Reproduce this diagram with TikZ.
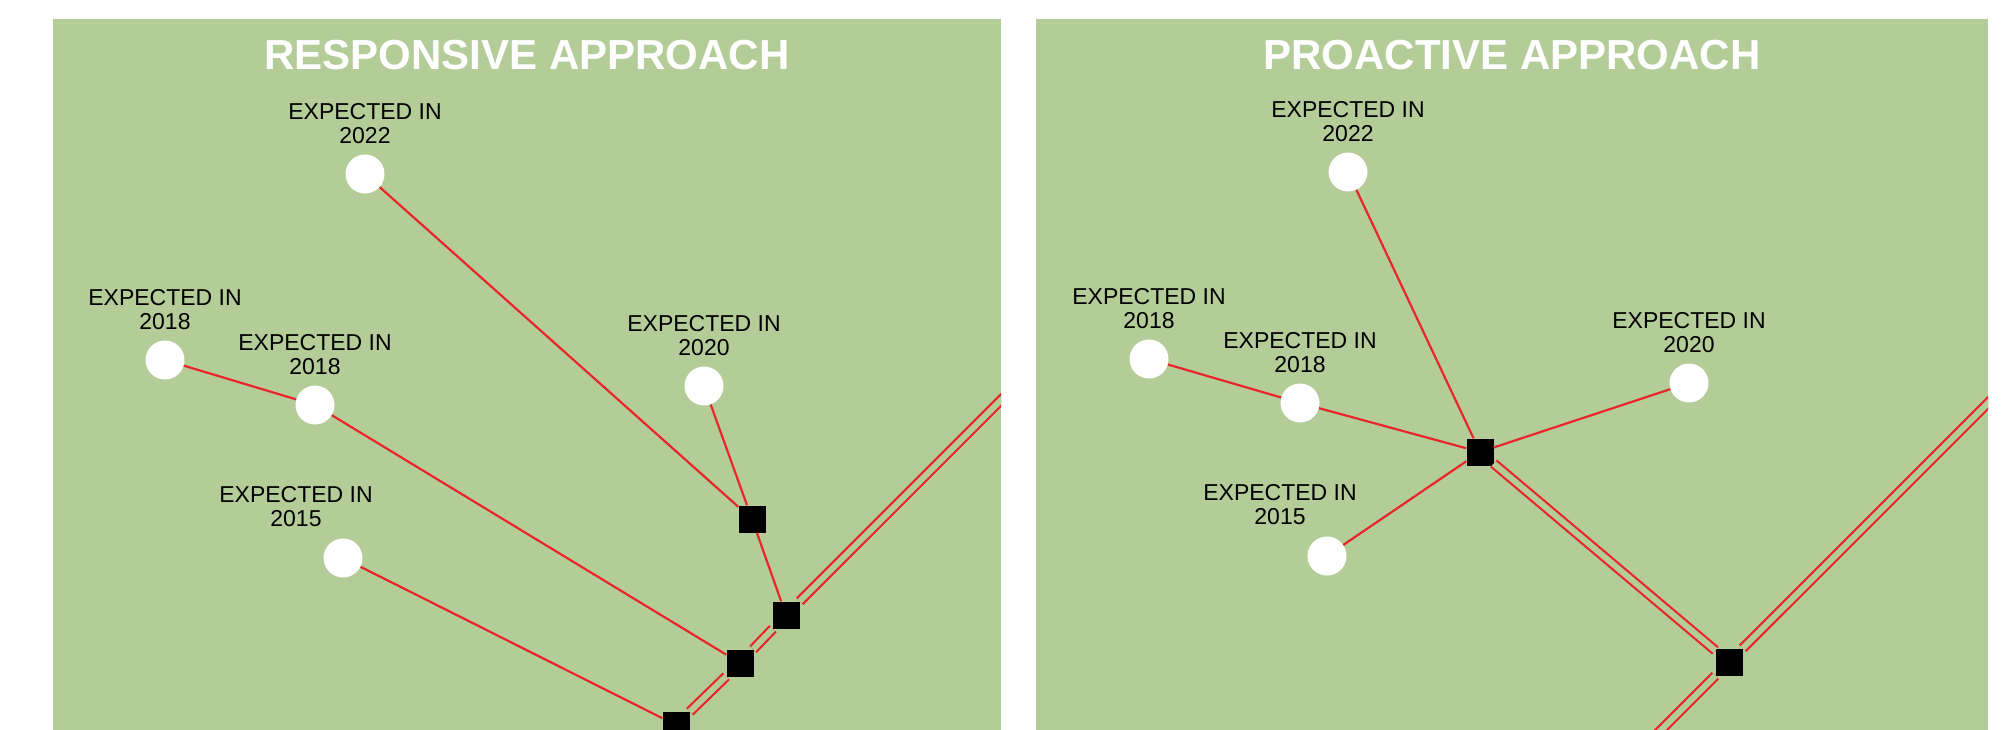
\documentclass[tikz,border=0pt]{standalone}
\usepackage{fontspec}
\setmainfont{Liberation Sans}
\usetikzlibrary{positioning}
\definecolor{panelgreen}{HTML}{B4CC98}
\definecolor{linkred}{HTML}{E8262B}

\begin{document}
\begin{tikzpicture}[
    x=1pt, y=-1pt,
    font=\fontsize{23}{24}\selectfont,
    title/.style={anchor=base, text=white, font=\bfseries\fontsize{42}{46}\selectfont},
    goal/.style={circle, fill=white, minimum size=39pt, inner sep=0pt},
    junction/.style={rectangle, fill=black, minimum size=27pt, inner sep=0pt},
    lbl/.style={align=center, inner sep=0pt, yshift=10pt},
    link/.style={draw=linkred, line width=2.2pt},
    trunk/.style={draw=linkred, line width=2.2pt, double=panelgreen, double distance=6pt}
  ]
  \useasboundingbox (0,0) rectangle (2012,730);

  % --- Panels ---
  \fill[panelgreen] (53,19) rectangle (1001,730);
  \fill[panelgreen] (1036,19) rectangle (1988,730);

  % --- Responsive approach ---
  \node[title] (rtitle) at (527,70) {RESPONSIVE APPROACH};

  \node[goal, label={[lbl]above:EXPECTED IN\\2022}] (rc22) at (365,174) {};
  \node[goal, label={[lbl]above:EXPECTED IN\\2018}] (rc18a) at (165,360) {};
  \node[goal, label={[lbl]above:EXPECTED IN\\2018}] (rc18b) at (315,405) {};
  \node[goal, label={[lbl]above:EXPECTED IN\\2020}] (rc20) at (704,386) {};
  \node[goal, label={[lbl, xshift=-47pt, yshift=1pt]above:EXPECTED IN\\2015}] (rc15) at (343,558) {};

  \node[junction] (rs1) at (752,519) {};
  \node[junction] (rs2) at (786,615) {};
  \node[junction] (rs3) at (740,663) {};
  \node[junction] (rs4) at (676,725) {};

  \coordinate (rin) at (601,800);
  \coordinate (rout) at (1050,351);

  % Trunk line, clipped to the panel
  \begin{scope}
    \clip (53,19) rectangle (1001,730);
    \draw[trunk] (rin) -- (rs4) -- (rs3) -- (rs2) -- (rout);
  \end{scope}

  % Feeder lines
  \draw[link] (rc22) -- (rs1);
  \draw[link] (rc20) -- (rs1) -- (rs2);
  \draw[link] (rc18a) -- (rc18b) -- (rs3);
  \draw[link] (rc15) -- (rs4);

  % --- Proactive approach ---
  \node[title] (ptitle) at (1512,70) {PROACTIVE APPROACH};

  \node[goal, label={[lbl]above:EXPECTED IN\\2022}] (pc22) at (1348,172) {};
  \node[goal, label={[lbl]above:EXPECTED IN\\2018}] (pc18a) at (1149,359) {};
  \node[goal, label={[lbl]above:EXPECTED IN\\2018}] (pc18b) at (1300,403) {};
  \node[goal, label={[lbl]above:EXPECTED IN\\2020}] (pc20) at (1689,383) {};
  \node[goal, label={[lbl, xshift=-47pt, yshift=1pt]above:EXPECTED IN\\2015}] (pc15) at (1327,556) {};

  \node[junction] (phub) at (1480,452) {};
  \node[junction] (pjoin) at (1729,662) {};

  \coordinate (pin) at (1591,800);
  \coordinate (pout) at (2029,362);

  % Trunk lines, clipped to the panel
  \begin{scope}
    \clip (1036,19) rectangle (1988,730);
    \draw[trunk] (pin) -- (pjoin) -- (pout);
    \draw[trunk] (phub) -- (pjoin);
  \end{scope}

  % Feeder lines
  \draw[link] (pc22) -- (phub);
  \draw[link] (pc18a) -- (pc18b) -- (phub);
  \draw[link] (pc15) -- (phub);
  \draw[link] (pc20) -- (phub);
\end{tikzpicture}
\end{document}
